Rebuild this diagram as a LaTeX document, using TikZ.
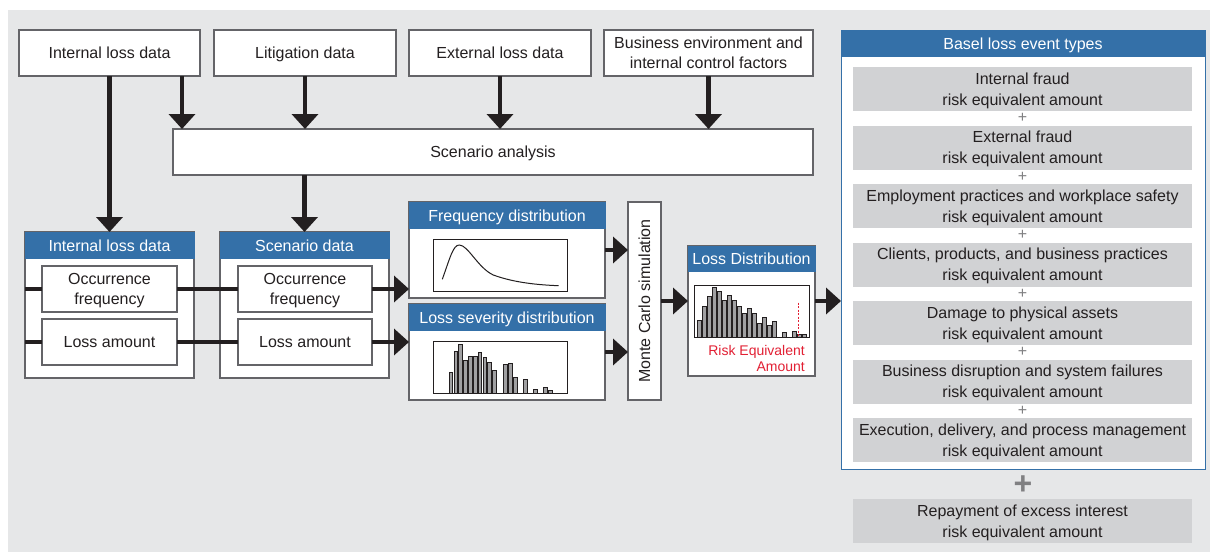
\documentclass[tikz,border=0pt]{standalone}
\usepackage{fontspec}
\setmainfont{Liberation Sans}
\usetikzlibrary{arrows.meta,calc}
\definecolor{bgray}{RGB}{230,231,232}
\definecolor{hblue}{RGB}{52,112,168}
\definecolor{cellgray}{RGB}{209,210,212}
\definecolor{ink}{RGB}{35,31,32}
\definecolor{edge}{RGB}{100,100,104}
\definecolor{riskred}{RGB}{226,32,52}
\definecolor{plusgray}{RGB}{128,128,130}
\definecolor{barfill}{RGB}{160,160,162}

\tikzset{
  txt/.style={font=\fontsize{16}{20}\selectfont, text=ink, align=center},
  box/.style={txt, draw=edge, line width=1.1pt, fill=white, inner sep=0pt, outer sep=0pt, text depth=0pt},
  panel/.style={draw=edge, line width=1.1pt, fill=white, inner sep=0pt, outer sep=0pt},
  head/.style={fill=hblue, text=white, font=\fontsize{16}{20}\selectfont, inner sep=0pt, outer sep=0pt, text depth=0pt},
  cell/.style={txt, fill=cellgray, inner sep=0pt, outer sep=0pt, minimum width=339pt, minimum height=44pt, font=\fontsize{16}{21}\selectfont, text depth=0pt},
  flow/.style={line width=4.7pt, draw=ink, -{Triangle[width=26pt,length=15pt]}},
  link/.style={line width=4.7pt, draw=ink},
  chart/.style={draw=ink, line width=0.9pt, fill=white, inner sep=0pt, outer sep=0pt},
  bar/.style={draw=ink, line width=0.6pt, fill=barfill},
  plussign/.style={text=plusgray, font=\fontsize{16}{16}\selectfont, inner sep=0pt},
}

\begin{document}
\begin{tikzpicture}[x=1pt,y=-1pt]
\useasboundingbox (0,0) rectangle (1215,552);
\fill[bgray] (8,10) rectangle (1210,552);

% source data boxes
\node[box, minimum width=181pt, minimum height=46pt] (ilt) at (109.5,53) {Internal loss data};
\node[box, minimum width=182pt, minimum height=46pt] (lit) at (305,53) {Litigation data};
\node[box, minimum width=182pt, minimum height=46pt] (ext) at (500,53) {External loss data};
\node[box, minimum width=209pt, minimum height=46pt] (bef) at (708.5,53) {Business environment and\\internal control factors};

% scenario analysis
\node[box, minimum width=640pt, minimum height=46pt] (sa) at (493,152) {Scenario analysis};

% internal loss data panel
\node[panel, minimum width=169pt, minimum height=146pt] (ild) at (109.5,305) {};
\node[head, minimum width=170pt, minimum height=27.5pt] (ildh) at (109.5,245.25) {Internal loss data};
\node[box, minimum width=135pt, minimum height=46pt] (iocc) at (109.5,289) {Occurrence\\frequency};
\node[box, minimum width=135pt, minimum height=46pt] (iamt) at (109.5,342) {Loss amount};

% scenario data panel
\node[panel, minimum width=169pt, minimum height=146pt] (sd) at (304.5,305) {};
\node[head, minimum width=170pt, minimum height=27.5pt] (sdh) at (304.5,245.25) {Scenario data};
\node[box, minimum width=134pt, minimum height=46pt] (socc) at (305,289) {Occurrence\\frequency};
\node[box, minimum width=134pt, minimum height=46pt] (samt) at (305,342) {Loss amount};

% frequency distribution panel
\node[panel, minimum width=196pt, minimum height=96pt] (fd) at (507,250) {};
\node[head, minimum width=197pt, minimum height=27.5pt] (fdh) at (507,215.25) {Frequency distribution};
\node[chart, minimum width=134pt, minimum height=52pt] (fdc) at (500,265) {};
\draw[ink, line width=1pt] (442.3,279.3) .. controls (450,258) and (453,245) .. (459.3,245)
  .. controls (468,245) and (478,268) .. (493.3,275)
  .. controls (515,283) and (540,285) .. (558.7,285.7);

% loss severity distribution panel
\node[panel, minimum width=196pt, minimum height=96pt] (sv) at (507,352) {};
\node[head, minimum width=197pt, minimum height=27.5pt] (svh) at (507,317.25) {Loss severity distribution};
\node[chart, minimum width=134pt, minimum height=52pt] (svc) at (500,367) {};
\foreach \bx/\bt in {449/372.7, 454/351.7, 458.7/344.7, 463.7/360.7, 468.3/356.7, 473.3/356,
                      478/352, 483/357.7, 487.7/362.3, 492.7/370.3, 503.7/364.3, 508.3/363.3,
                      513.3/377.3, 523.3/379, 533.3/389.3, 543.3/387.3, 548.3/390.3}
  \draw[bar] (\bx,393) rectangle (\bx+3.6,\bt);

% Monte Carlo simulation
\node[box, minimum width=33pt, minimum height=198pt] (mc) at (644.5,301) {};
\node[txt, rotate=90, inner sep=0pt] (mclabel) at (mc.center) {Monte Carlo simulation};

% loss distribution panel
\node[panel, minimum width=127pt, minimum height=130pt] (ld) at (751.5,311) {};
\node[head, minimum width=128pt, minimum height=26.5pt] (ldh) at (751.5,258.75) {Loss Distribution};
\node[chart, minimum width=115pt, minimum height=52pt] (ldc) at (751.5,311) {};
\foreach \bx/\bt in {697.3/320, 702.3/306, 707.3/296.7, 712.3/287.7, 717.3/291.7, 722/300,
                      727.3/295.3, 732/300, 737/306, 742/313.3, 747/308.3, 752/313.3,
                      757.3/323.3, 762.3/317.3, 767.3/325.3, 772.3/321.7, 782.3/332.7,
                      792.3/331, 797.3/334, 802.3/334.3}
  \draw[bar] (\bx,337) rectangle (\bx+3.8,\bt);
\draw[riskred, line width=0.9pt, dash pattern=on 2pt off 1.5pt] (798.6,302.5) -- (798.6,336.5);
\node[anchor=east, align=right, inner sep=0pt, text=riskred, font=\fontsize{14}{16}\selectfont] (risk) at (805,358) {Risk Equivalent\\Amount};

% Basel loss event types panel
\node[draw=hblue, line width=1pt, fill=white, inner sep=0pt, outer sep=0pt, minimum width=364pt, minimum height=439pt] (bs) at (1023,249.5) {};
\node[head, minimum width=365pt, minimum height=27.5pt] (bsh) at (1023,43.25) {Basel loss event types};
\node[cell] (c1) at (1022.5,89) {Internal fraud\\risk equivalent amount};
\node[plussign] (p1) at (1022.5,118) {+};
\node[cell] (c2) at (1022.5,147.5) {External fraud\\risk equivalent amount};
\node[plussign] (p2) at (1022.5,176.5) {+};
\node[cell] (c3) at (1022.5,206) {Employment practices and workplace safety\\risk equivalent amount};
\node[plussign] (p3) at (1022.5,235) {+};
\node[cell] (c4) at (1022.5,264.5) {Clients, products, and business practices\\risk equivalent amount};
\node[plussign] (p4) at (1022.5,293.5) {+};
\node[cell] (c5) at (1022.5,323) {Damage to physical assets\\risk equivalent amount};
\node[plussign] (p5) at (1022.5,352) {+};
\node[cell] (c6) at (1022.5,381.5) {Business disruption and system failures\\risk equivalent amount};
\node[plussign] (p6) at (1022.5,410.5) {+};
\node[cell] (c7) at (1022.5,440) {Execution, delivery, and process management\\risk equivalent amount};
\node[text=plusgray, font=\fontsize{32}{32}\bfseries, inner sep=0pt] (bigplus) at (1023,485) {+};
\node[cell] (c8) at (1022.5,521) {Repayment of excess interest\\risk equivalent amount};

% data flow into scenario analysis and panels
\coordinate (iltout) at ($(ilt.south east)+(-18,0)$);
\draw[flow] (ilt.south) -- (ild.north);
\draw[flow] (iltout) -- (iltout |- sa.north);
\draw[flow] (lit.south) -- (lit.south |- sa.north);
\draw[flow] (ext.south) -- (ext.south |- sa.north);
\draw[flow] (bef.south) -- (bef.south |- sa.north);
\draw[flow] (sd.north |- sa.south) -- (sd.north);

% occurrence frequency and loss amount chains
\draw[link] (ild.west |- iocc.west) -- (iocc.west);
\draw[link] (iocc.east) -- (socc.west);
\draw[flow] (socc.east) -- (fd.west |- socc.east);
\draw[link] (ild.west |- iamt.west) -- (iamt.west);
\draw[link] (iamt.east) -- (samt.west);
\draw[flow] (samt.east) -- (sv.west |- samt.east);

% distributions into simulation and on to the loss event types
\draw[flow] (fd.east) -- (mc.west |- fd.east);
\draw[flow] (sv.east) -- (mc.west |- sv.east);
\draw[flow] (mc.east) -- (ld.west |- mc.east);
\draw[flow] (ld.east |- mc.east) -- (bs.west |- mc.east);
\end{tikzpicture}
\end{document}
